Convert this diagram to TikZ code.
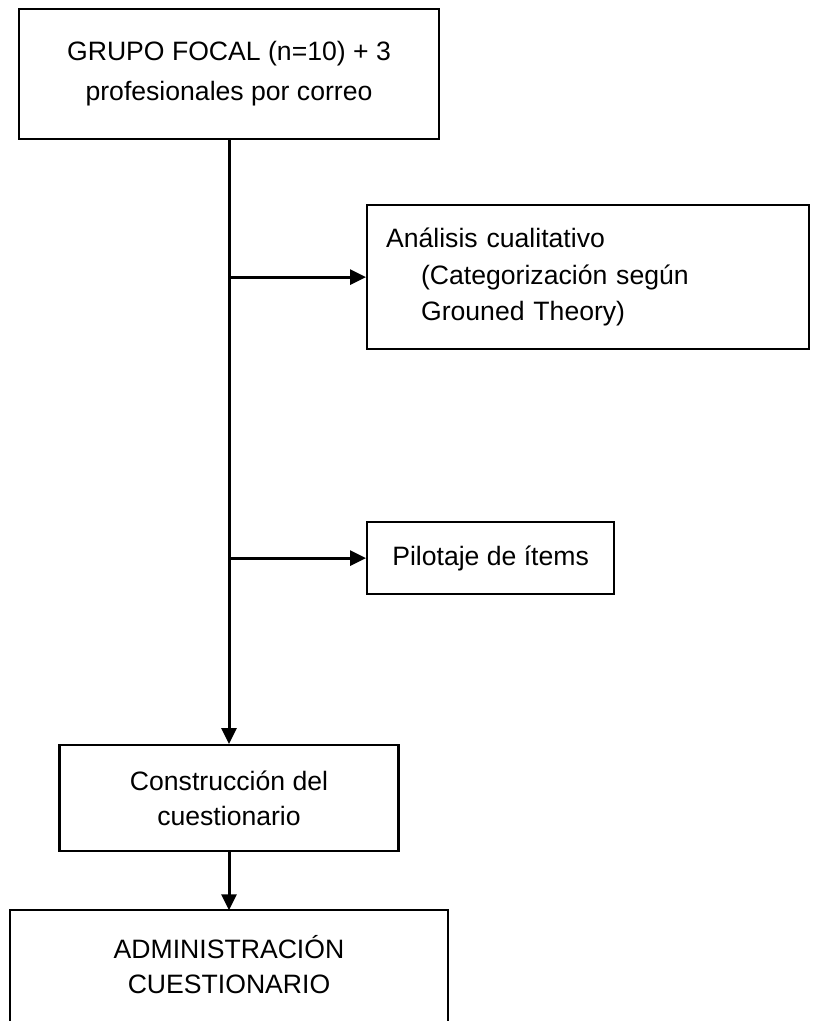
\documentclass[tikz,border=0pt]{standalone}
\usepackage{fontspec}
\setmainfont{Liberation Sans}
\usetikzlibrary{arrows.meta,positioning}

\begin{document}
\begin{tikzpicture}[>={Triangle[length=8pt,width=7.5pt]}]
        \tikzset{block/.style= {draw, line width=1.1pt, rectangle, align=center, inner sep=0pt,
                font=\fontsize{13.3pt}{17.5pt}\selectfont},
                link/.style= {draw, line width=1.5pt, ->}
        }
        \useasboundingbox (0,0) rectangle (408pt,-510.5pt);

        \node [block, minimum width=210pt, minimum height=65pt, font=\fontsize{13.3pt}{20pt}\selectfont]
                at (114.5pt,-37pt) (focal){GRUPO FOCAL (n=10) + 3\\profesionales por correo};

        \node [coordinate, below = 68.5pt of focal.south] (tapA){};
        \node [coordinate, below = 140.5pt of tapA] (tapB){};

        \node [block, right = 68.5pt of tapA, minimum width=221pt, minimum height=72pt,
                text width=202pt, align=left, font=\fontsize{13.3pt}{18.25pt}\selectfont]
                (analisis){Análisis cualitativo\\\hspace*{17.5pt}(Categorización según\\\hspace*{17.5pt}Grouned Theory)};
        \node [block, right = 68.5pt of tapB, minimum width=123.5pt, minimum height=36pt]
                (pilotaje){Pilotaje de ítems};

        \node [block, below = 302pt of focal, minimum width=169.5pt, minimum height=53pt]
                (constr){Construcción del\\cuestionario};
        \node [block, draw=none, below = 29pt of constr, minimum width=218pt, minimum height=53.5pt]
                (admin){ADMINISTRACIÓN\\CUESTIONARIO};
        \draw [line width=1.1pt] ([yshift=-30pt]admin.south west) -- (admin.north west)
                -- (admin.north east) -- ([yshift=-30pt]admin.south east);

        \path
            (focal) edge[link] (constr)
            (tapA) edge[link] (analisis)
            (tapB) edge[link] (pilotaje)
            (constr) edge[link] (admin)
                    ;
    \end{tikzpicture}
\end{document}
